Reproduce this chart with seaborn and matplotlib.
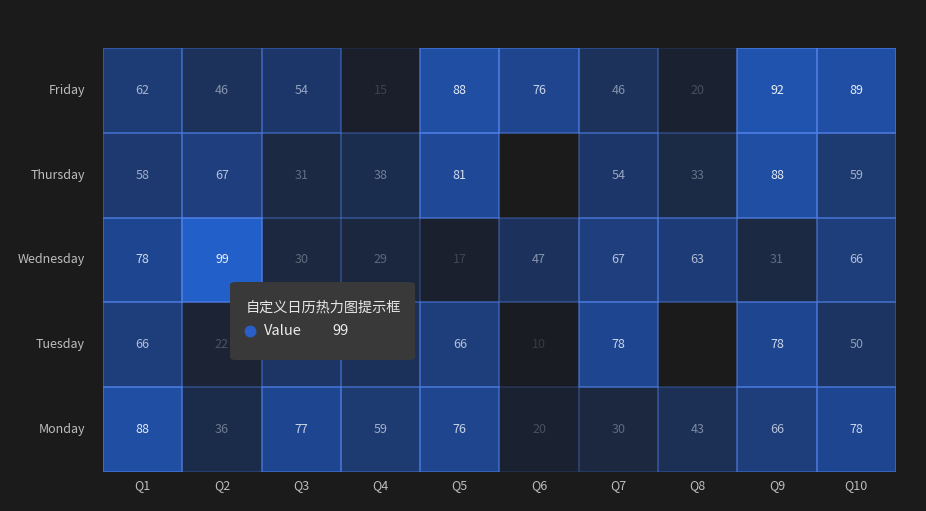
import numpy as np
import pandas as pd
import matplotlib
matplotlib.use("Agg")
import matplotlib.pyplot as plt
import seaborn as sns
from matplotlib.colors import LinearSegmentedColormap, to_rgba
from matplotlib.patches import Rectangle, FancyBboxPatch
from matplotlib.lines import Line2D

# --- DATA ---
days = ["Friday", "Thursday", "Wednesday", "Tuesday", "Monday"]
quarters = ["Q1", "Q2", "Q3", "Q4", "Q5", "Q6", "Q7", "Q8", "Q9", "Q10"]
friday = [62, 46, 54, 15, 88, 76, 46, 20, 92, 89]
thursday = [58, 67, 31, 38, 81, np.nan, 54, 33, 88, 59]
wednesday = [78, 99, 30, 29, 17, 47, 67, 63, 31, 66]
tuesday = [66, 22, 52, 45, 66, 10, 78, np.nan, 78, 50]
monday = [88, 36, 77, 59, 76, 20, 30, 43, 66, 78]

tooltip_title = "自定义日历热力图提示框"
tooltip_label = "Value"
tooltip_value = 99

BG = "#1b1b1b"

df = pd.DataFrame([friday, thursday, wednesday, tuesday, monday],
                  index=days, columns=quarters)

cmap = LinearSegmentedColormap.from_list("calendar_blue", [
    (0.0, "#1a1c23"),
    (0.1, "#1a1c24"),
    (0.3, "#1b2840"),
    (0.5, "#1c3462"),
    (0.7, "#1e4082"),
    (0.9, "#1f4fa6"),
    (1.0, "#2260cc"),
])

sns.set_theme(style="white")
plt.rcParams["font.family"] = ["Noto Sans CJK SC", "DejaVu Sans"]

fig, ax = plt.subplots(figsize=(9.26, 5.11), dpi=100)
fig.patch.set_facecolor(BG)
ax.set_facecolor(BG)
fig.subplots_adjust(left=0.1112, right=0.9676, top=0.9061, bottom=0.0763)

sns.heatmap(df, ax=ax, cmap=cmap, vmin=0, vmax=100, cbar=False,
            annot=True, fmt=".0f", linewidths=0,
            annot_kws={"fontsize": 9})

# text colour fades with value
vals = df.values
flat = [v for v in vals.flatten() if not np.isnan(v)]
for txt, v in zip(ax.texts, flat):
    a = float(np.clip(v / 90.0, 0.14, 1.0))
    txt.set_color(to_rgba("#e8eef8", a))

# per-cell borders, brighter for higher values
for i in range(vals.shape[0]):
    for j in range(vals.shape[1]):
        v = vals[i, j]
        if np.isnan(v):
            continue
        a = float(np.clip(v / 100.0, 0.12, 1.0)) * 0.85
        ax.add_patch(Rectangle((j, i), 1, 1, fill=False,
                               edgecolor=to_rgba("#4f7fe6", a), lw=1.1))

ax.set_xlabel("")
ax.set_ylabel("")
ax.tick_params(axis="both", length=0, colors="#bdbdbd", labelsize=9)
ax.tick_params(axis="y", pad=13, rotation=0)
ax.tick_params(axis="x", pad=5)
for lbl in ax.get_yticklabels():
    lbl.set_rotation(0)
    lbl.set_ha("right")
for s in ax.spines.values():
    s.set_visible(False)

# tooltip
tip = FancyBboxPatch((0.2484, 0.2955), 0.1998, 0.1526,
                     boxstyle="round,pad=0,rounding_size=0.006",
                     transform=fig.transFigure, facecolor="#393939",
                     edgecolor="none", zorder=10)
fig.patches.append(tip)
fig.text(246 / 926, 1 - 307 / 511, tooltip_title, color="#e6e6e6",
         fontsize=10.2, va="center", ha="left", zorder=11)
fig.add_artist(Line2D([250 / 926], [1 - 331 / 511], transform=fig.transFigure,
                      marker="o", markersize=7.5, color="#2a5fc9",
                      linestyle="none", zorder=11))
fig.text(264 / 926, 1 - 331 / 511, tooltip_label, color="#ececec",
         fontsize=10.5, fontweight="medium", va="center", ha="left", zorder=11)
fig.text(332 / 926, 1 - 331 / 511, str(tooltip_value), color="#ececec",
         fontsize=10.5, fontweight="medium", va="center", ha="left", zorder=11)

plt.savefig("out.png", facecolor=BG)
